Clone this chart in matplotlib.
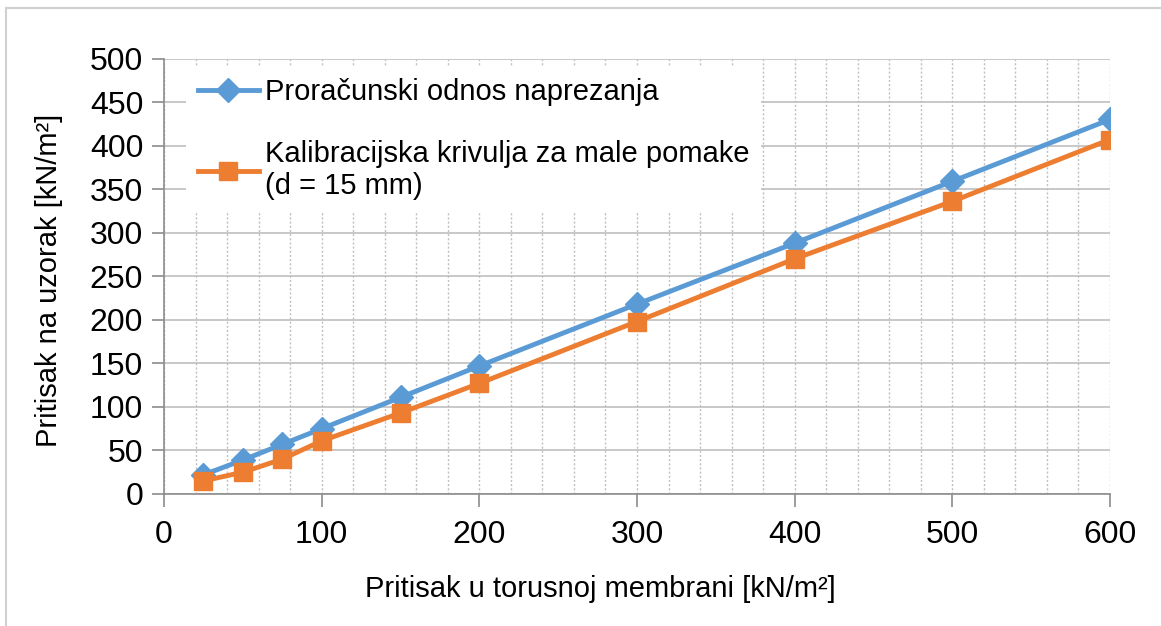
import matplotlib.pyplot as plt
import numpy as np
from matplotlib.lines import Line2D
from matplotlib.ticker import MultipleLocator

plt.rcParams['font.family'] = ['Liberation Sans', 'DejaVu Sans']

## Data
x_vals = [25, 50, 75, 100, 150, 200, 300, 400, 500, 600]
proracunski = [22, 39, 57, 75, 111, 147, 218, 288, 359, 430]
kalibracija = [15, 25, 40, 61, 93, 127, 198, 270, 336, 407]

blue = '#5B9BD5'
orange = '#ED7D31'

fig = plt.figure(figsize=(11.61, 6.26), dpi=100)
ax = fig.add_axes([0.1413, 0.2109, 0.956 - 0.1413, 0.9065 - 0.2109])

## Frame lines of the chart area (top and left only)
fig.add_artist(Line2D([6 / 1161, 1], [1 - 8 / 626] * 2, color='#D0D0D0', lw=1.5))
fig.add_artist(Line2D([6 / 1161] * 2, [0, 1 - 8 / 626], color='#D0D0D0', lw=1.5))

ax.plot(x_vals, proracunski, color=blue, lw=3.5, marker='D', ms=12,
        label='Proračunski odnos naprezanja', zorder=3)
ax.plot(x_vals, kalibracija, color=orange, lw=3.5, marker='s', ms=13,
        label='Kalibracijska krivulja za male pomake\n(d = 15 mm)', zorder=3)

ax.set_xlim(0, 600)
ax.set_ylim(0, 500)
ax.xaxis.set_major_locator(MultipleLocator(100))
ax.xaxis.set_minor_locator(MultipleLocator(20))
ax.yaxis.set_major_locator(MultipleLocator(50))

ax.grid(True, which='major', axis='y', color='#BFBFBF', lw=1.2, ls='-')
ax.grid(True, which='minor', axis='x', color='#BFBFBF', lw=1, ls=(0, (1.5, 1.5)))
ax.grid(True, which='major', axis='x', color='#BFBFBF', lw=1, ls=(0, (1.5, 1.5)))
ax.set_axisbelow(True)

for s in ['top', 'right']:
    ax.spines[s].set_visible(False)
for s in ['left', 'bottom']:
    ax.spines[s].set_color('#8C8C8C')
    ax.spines[s].set_linewidth(1.2)

ax.tick_params(axis='both', which='major', direction='out', color='#8C8C8C',
               width=1.2, labelsize=23, pad=6)
ax.tick_params(axis='y', which='major', length=9)
ax.tick_params(axis='x', which='major', length=9, pad=10)
ax.tick_params(axis='x', which='minor', length=0)

ax.set_xlabel('Pritisak u torusnoj membrani [kN/m²]', fontsize=21)
ax.xaxis.set_label_coords(0.461, -0.185)
ax.set_ylabel('Pritisak na uzorak [kN/m²]', fontsize=21)
ax.yaxis.set_label_coords(-0.107, 0.49)

leg = ax.legend(loc='upper left', bbox_to_anchor=(0.017, 0.995), fontsize=21,
                frameon=True, fancybox=False, edgecolor='none', framealpha=1,
                handlelength=2.1, handletextpad=0.2, labelspacing=1.15,
                borderaxespad=0.2)
leg.get_frame().set_facecolor('white')
for t in leg.get_texts():
    t.set_linespacing(1.2)

## Save the graph
fig.savefig('out.png', dpi=100)
